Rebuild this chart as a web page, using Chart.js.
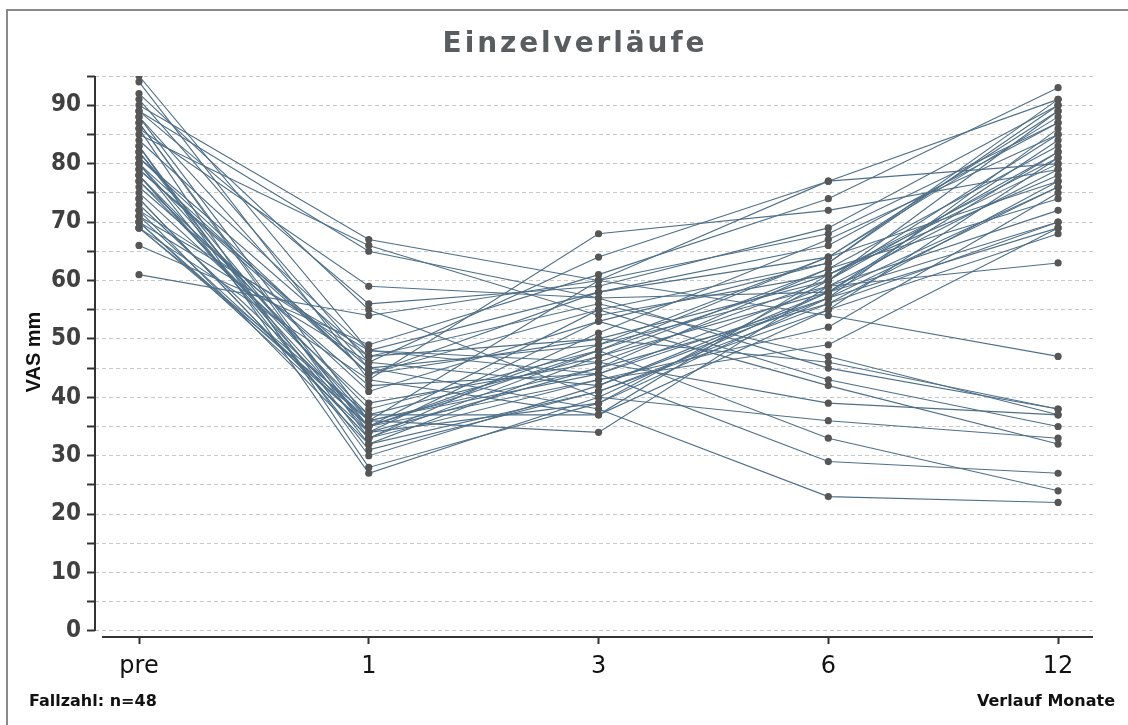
<!DOCTYPE html>
<html>
<head>
<meta charset="utf-8">
<script src="https://cdn.jsdelivr.net/npm/chart.js@4/dist/chart.umd.min.js"></script>
<style>
  html, body { margin: 0; padding: 0; background: #fff; }
  #wrap { position: relative; width: 1128px; height: 725px; overflow: hidden; }
  #frame { position: absolute; left: 6px; top: 9px; width: 1200px; height: 800px; border-left: 2px solid #8a8a8a; border-top: 2px solid #8a8a8a; }
  canvas { position: absolute; left: 0; top: 0; }
</style>
</head>
<body>
<div id="wrap">
  <div id="frame"></div>
  <canvas id="c" width="1128" height="725"></canvas>
</div>
<script>
// Time points (x categories)
const categories = ['pre', '1', '3', '6', '12'];
// Y tick values
const yTicks = [0, 5, 10, 15, 20, 25, 30, 35, 40, 45, 50, 55, 60, 65, 70, 75, 80, 85, 90, 95];
// VAS (mm) per patient at each time point (n = 48)
const pre = [88,80,74,92,84,77,70,86,79,72,90,85,89,95,94,91,61,66,89,88,87,87,86,83,83,82,82,81,81,80,79,78,78,77,76,75,74,73,72,71,71,70,70,69,69,69,80,78];
const m1  = [45,36,33,55,48,41,35,59,44,47,67,66,65,48,43,46,54,49,56,36,34,33,28,27,30,35,32,44,47,31,45,38,34,37,42,39,33,36,32,48,35,46,34,43,37,36,44,35];
const m3  = [38,44,48,40,46,53,55,57,50,56,60,54,57,58,68,64,60,61,59,60,53,51,39,40,42,49,47,55,50,41,49,48,45,47,44,46,43,45,41,44,43,42,39,37,37,34,58,48];
const m6  = [23,29,33,36,39,42,43,45,46,47,54,61,58,64,72,77,77,74,69,68,63,67,60,58,57,64,62,63,60,55,59,61,56,58,57,60,52,62,56,59,49,58,57,55,61,59,66,64];
const m12 = [22,27,24,33,37,32,35,38,38,37,47,80,76,89,79,91,80,93,90,87,91,85,89,84,86,88,83,90,82,81,79,78,77,82,76,85,75,74,70,72,69,70,69,68,81,63,87,77];

const columns = [pre, m1, m3, m6, m12];
const lineColor = '#4f6f88';
const dotColor = '#565656';

const datasets = pre.map((_, i) => ({
  type: 'line',
  data: columns.map((col, j) => ({ x: j, y: col[i] })),
  borderColor: lineColor,
  borderWidth: 1.1,
  pointRadius: 0,
  fill: false,
  tension: 0,
  order: 1
}));
const allPoints = [];
columns.forEach((col, j) => col.forEach(v => allPoints.push({ x: j, y: v })));
datasets.push({
  type: 'scatter',
  data: allPoints,
  pointRadius: 3.6,
  pointBorderWidth: 0,
  pointBackgroundColor: dotColor,
  showLine: false,
  order: -1
});

const extras = {
  id: 'extras',
  beforeDatasetsDraw(chart) {
    const ctx = chart.ctx;
    const ca = chart.chartArea;
    const ys = chart.scales.y;
    ctx.save();
    ctx.strokeStyle = '#333';
    ctx.lineWidth = 2;
    ctx.beginPath();
    ctx.moveTo(ca.left, ys.getPixelForValue(95));
    ctx.lineTo(ca.left, ys.getPixelForValue(0));
    ctx.stroke();
    ctx.beginPath();
    ctx.moveTo(ca.left + 7, ca.bottom);
    ctx.lineTo(ca.right, ca.bottom);
    ctx.stroke();
    ctx.restore();
  },
  afterDraw(chart) {
    const ctx = chart.ctx;
    ctx.save();
    ctx.fillStyle = '#5a5d60';
    ctx.font = 'bold 28px "DejaVu Sans"';
    ctx.textAlign = 'center';
    ctx.textBaseline = 'alphabetic';
    try { ctx.letterSpacing = '2.9px'; } catch (e) {}
    ctx.fillText('Einzelverläufe', 575, 52);
    try { ctx.letterSpacing = '0px'; } catch (e) {}

    ctx.fillStyle = '#111';
    ctx.font = 'bold 16px "DejaVu Sans"';
    ctx.textAlign = 'left';
    ctx.fillText('Fallzahl: n=48', 29, 706);
    ctx.textAlign = 'right';
    ctx.fillText('Verlauf Monate', 1115, 706);

    ctx.translate(34, 352);
    ctx.rotate(-Math.PI / 2);
    ctx.textAlign = 'center';
    ctx.textBaseline = 'middle';
    ctx.font = 'bold 20px "Liberation Sans", Arial, sans-serif';
    ctx.fillText('VAS mm', 0, 0);
    ctx.restore();
  }
};

new Chart(document.getElementById('c'), {
  data: { datasets },
  options: {
    responsive: false,
    animation: false,
    devicePixelRatio: 1,
    layout: { padding: { top: 76, right: 35, left: 0, bottom: 0 } },
    plugins: { legend: { display: false }, tooltip: { enabled: false }, title: { display: false } },
    scales: {
      x: {
        type: 'linear',
        position: 'bottom',
        min: -0.1915,
        max: 4.152,
        afterBuildTicks: s => { s.ticks = categories.map((_, i) => ({ value: i })); },
        afterFit: s => { s.height = 88; },
        border: { display: false },
        grid: { drawOnChartArea: false, drawTicks: true, tickLength: 7, tickColor: '#333', tickWidth: 2 },
        ticks: {
          callback: v => categories[v],
          font: { family: '"DejaVu Sans"', size: 24 },
          color: '#111',
          padding: 8,
          maxRotation: 0,
          autoSkip: false
        }
      },
      y: {
        type: 'linear',
        position: 'left',
        min: -1.03,
        max: 95,
        afterBuildTicks: s => { s.ticks = yTicks.map(v => ({ value: v })); },
        afterFit: s => { s.width = 95; },
        border: { display: false, dash: [4, 3] },
        grid: { color: '#c9c9c9', lineWidth: 1, tickLength: 8, tickColor: '#333', tickWidth: 2, tickBorderDash: [] },
        ticks: {
          callback: v => (v % 10 === 0 ? String(v) : ''),
          font: { family: '"Liberation Sans Narrow", "DejaVu Sans Condensed", "Liberation Sans", sans-serif', size: 24, weight: 'bold' },
          color: '#404040',
          padding: 6,
          autoSkip: false
        }
      }
    }
  },
  plugins: [extras]
});
</script>
</body>
</html>
